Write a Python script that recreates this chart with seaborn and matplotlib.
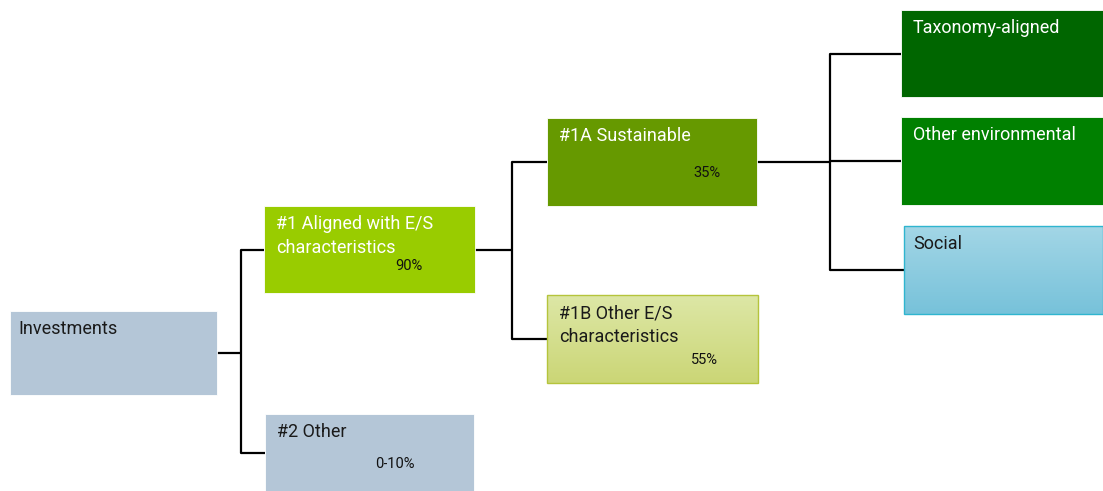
import numpy as np
import matplotlib
matplotlib.use("Agg")
import matplotlib.pyplot as plt
from matplotlib.patches import Rectangle
import seaborn as sns

sns.set_theme(style="white")
plt.rcParams['font.family'] = ['Roboto', 'DejaVu Sans']

# ---- data ----
node_labels = ["Investments", "#1 Aligned with E/S\ncharacteristics", "#2 Other",
               "#1A Sustainable", "#1B Other E/S\ncharacteristics",
               "Taxonomy-aligned", "Other environmental", "Social"]
node_shares = ["", "90%", "0-10%", "35%", "55%", "", "", ""]
parents = [None, 0, 0, 1, 1, 3, 3, 3]

# ---- layout (pixel coords: x0, y0, x1, y1) ----
boxes = [(10, 311, 217, 395), (264, 206, 475, 293), (265, 414, 474, 491),
         (547, 118, 757, 206), (547, 295, 758, 383),
         (901, 10, 1103, 97), (901, 117, 1103, 205), (904, 226, 1103, 314)]
fills = ["#b4c6d7", "#99cc00", "#b4c6d7", "#669900", None, "#006600", "#008000", None]
gradients = {4: ("#dde7a6", "#cbd676", "#b5c43c"), 7: ("#a3d6e6", "#77c2da", "#2fb5cf")}
text_col = ["#1a1a1a", "white", "#1a1a1a", "white", "#1a1a1a", "white", "white", "#1a1a1a"]
text_pad = [8, 12, 12, 12, 12, 12, 12, 9]
share_pos = [None, (409, 266), (395, 464), (707, 173), (704, 360), None, None, None]
elbow_x = {0: 241, 1: 512, 3: 830}

fig = plt.figure(figsize=(11.03, 4.91), dpi=100)
ax = fig.add_axes([0, 0, 1, 1])
ax.set_xlim(0, 1103)
ax.set_ylim(491, 0)
ax.axis("off")

# connectors
for p, ex in elbow_x.items():
    px0, py0, px1, py1 = boxes[p]
    pcy = (py0 + py1) / 2
    kids = [i for i, q in enumerate(parents) if q == p]
    kcy = [(boxes[k][1] + boxes[k][3]) / 2 for k in kids]
    ax.plot([px1, ex], [pcy, pcy], color="black", lw=1.6, solid_capstyle="butt", zorder=1)
    ax.plot([ex, ex], [min(kcy), max(kcy)], color="black", lw=1.6, zorder=1)
    for k, cy in zip(kids, kcy):
        ax.plot([ex, boxes[k][0]], [cy, cy], color="black", lw=1.6, solid_capstyle="butt", zorder=1)

# boxes
for i, (x0, y0, x1, y1) in enumerate(boxes):
    if fills[i] is not None:
        ax.add_patch(Rectangle((x0, y0), x1 - x0, y1 - y0, facecolor=fills[i],
                               edgecolor="white", lw=0.6, zorder=2))
    else:
        c_top, c_bot, c_edge = gradients[i]
        cmap = matplotlib.colors.LinearSegmentedColormap.from_list("g", [c_top, c_bot])
        grad = np.linspace(0, 1, 100).reshape(-1, 1)
        ax.imshow(grad, cmap=cmap, extent=(x0, x1, y1, y0), aspect="auto", zorder=2)
        ax.add_patch(Rectangle((x0, y0), x1 - x0, y1 - y0, facecolor="none",
                               edgecolor=c_edge, lw=1.0, zorder=3))
    ax.text(x0 + text_pad[i], y0 + 9, node_labels[i], color=text_col[i], fontsize=13,
            ha="left", va="top", linespacing=1.42, zorder=4)
    if share_pos[i] is not None:
        ax.text(share_pos[i][0], share_pos[i][1], node_shares[i], color="#111111",
                fontsize=10.5, ha="center", va="center", zorder=4)

fig.savefig("out.png", dpi=100)
